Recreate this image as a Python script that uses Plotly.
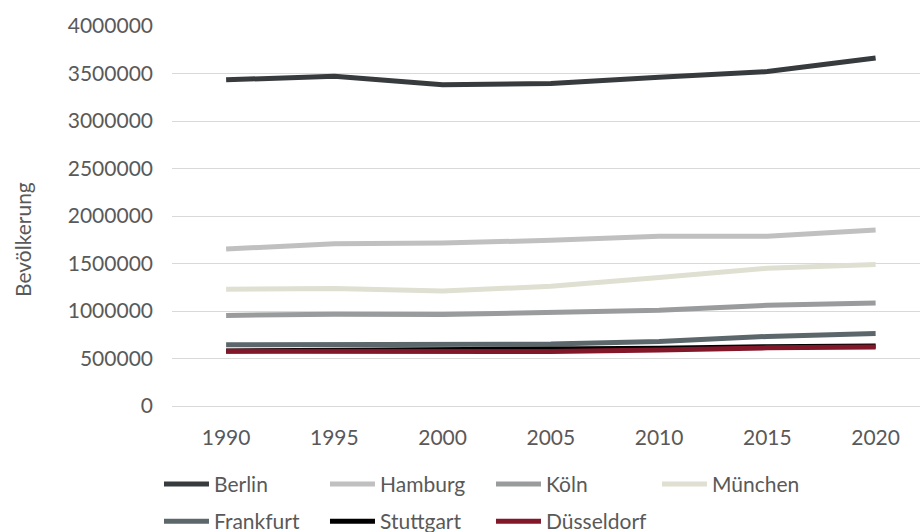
import plotly.graph_objects as go

years = ["1990", "1995", "2000", "2005", "2010", "2015", "2020"]

berlin = [3433695, 3471418, 3382169, 3395189, 3460725, 3520031, 3664088]
hamburg = [1652363, 1707901, 1715392, 1743627, 1786448, 1787408, 1852478]
koeln = [953551, 965697, 962884, 983347, 1007119, 1060582, 1083498]
muenchen = [1229026, 1236370, 1210223, 1259677, 1353186, 1450381, 1488202]
frankfurt = [644865, 650055, 646550, 651899, 679664, 732688, 764104]
stuttgart = [579988, 585604, 583874, 593923, 606588, 623738, 630305]
duesseldorf = [575794, 571030, 569364, 574514, 588735, 612178, 620523]

series = [
    ("Berlin", berlin, "#373b3e", "legend"),
    ("Hamburg", hamburg, "#c0c0c0", "legend"),
    ("Köln", koeln, "#999b9c", "legend"),
    ("München", muenchen, "#dfe0d2", "legend"),
    ("Frankfurt", frankfurt, "#5b676b", "legend2"),
    ("Stuttgart", stuttgart, "#000000", "legend2"),
    ("Düsseldorf", duesseldorf, "#82172a", "legend2"),
]

TXT = "#595959"
FONT = "Lato"
FS = 21

fig = go.Figure()
for name, vals, col, lg in series:
    fig.add_trace(go.Scatter(x=years, y=vals, mode="lines", name=name,
                             line=dict(color=col, width=5), legend=lg))

legend_common = dict(orientation="h", xref="paper", yref="paper",
                     xanchor="left", yanchor="middle",
                     font=dict(family=FONT, size=FS, color=TXT),
                     itemwidth=45, entrywidth=106, entrywidthmode="pixels",
                     bgcolor="rgba(0,0,0,0)", traceorder="normal")

fig.update_layout(
    width=920, height=532,
    margin=dict(l=172, r=0, t=26, b=126, autoexpand=False),
    paper_bgcolor="white", plot_bgcolor="white",
    font=dict(family=FONT, size=FS, color=TXT),
    showlegend=True,
    legend=dict(legend_common, x=-0.0174, y=-0.2063),
    legend2=dict(legend_common, x=-0.0174, y=-0.3040),
    xaxis=dict(type="category", range=[-0.5, 6.41], showgrid=False,
               showline=False, zeroline=False, ticks="", ticklabelstandoff=17,
               tickfont=dict(family=FONT, size=FS, color=TXT)),
    yaxis=dict(range=[0, 4000000], dtick=500000, tickformat="d",
               showgrid=True, gridcolor="#d9d9d9", gridwidth=1,
               zeroline=True, zerolinecolor="#d9d9d9", zerolinewidth=1,
               showline=False, ticks="", ticklabelstandoff=18,
               tickfont=dict(family=FONT, size=FS, color=TXT)),
    annotations=[dict(text="Bevölkerung", textangle=-90, xref="paper", yref="paper",
                      x=-0.2005, y=0.4368, xanchor="center", yanchor="middle",
                      showarrow=False, font=dict(family=FONT, size=FS, color=TXT))],
)

fig.write_html("out.html")
